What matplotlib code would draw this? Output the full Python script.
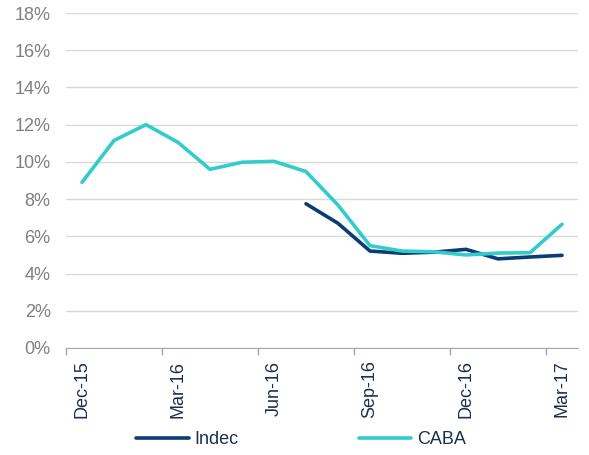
import matplotlib
matplotlib.use("Agg")
import matplotlib.pyplot as plt
from matplotlib.ticker import FixedLocator, FuncFormatter

plt.rcParams['font.family'] = ['Liberation Sans', 'DejaVu Sans']

# monthly categories Dec-15 .. Mar-17
months = ["Dec-15", "Jan-16", "Feb-16", "Mar-16", "Apr-16", "May-16", "Jun-16", "Jul-16",
          "Aug-16", "Sep-16", "Oct-16", "Nov-16", "Dec-16", "Jan-17", "Feb-17", "Mar-17"]
caba = [8.9, 11.15, 12.0, 11.05, 9.6, 9.98, 10.03, 9.48,
        7.68, 5.5, 5.21, 5.17, 5.0, 5.1, 5.12, 6.65]
indec_months = months[7:]
indec = [7.75, 6.7, 5.21, 5.09, 5.15, 5.3, 4.79, 4.89, 4.98]
yticks = [0, 2, 4, 6, 8, 10, 12, 14, 16, 18]

navy = "#0B3C73"
teal = "#33CCCC"

fig = plt.figure(figsize=(5.89, 4.55), dpi=100)
ax = fig.add_axes([66/589, 1 - 348/455, (578-66)/589, (348-13)/455])

xi = list(range(len(months)))
idx = [months.index(m) for m in indec_months]
ax.plot(idx, indec, color=navy, lw=2.6, solid_capstyle='round', label="Indec", zorder=3)
ax.plot(xi, caba, color=teal, lw=2.6, solid_capstyle='round', label="CABA", zorder=4)

ax.set_xlim(-0.5, len(months) - 0.5)
ax.set_ylim(0, 18)
ax.set_yticks(yticks)
ax.yaxis.set_major_formatter(FuncFormatter(lambda v, p: f"{v:.0f}%"))
ax.grid(axis='y', color='#D9D9D9', lw=1)
ax.set_axisbelow(True)
ax.tick_params(axis='y', length=0, labelsize=13, labelcolor='#7F7F7F', pad=11)

# labels every 3 months, tick marks at category boundaries
lab_pos = xi[::3]
ax.set_xticks(lab_pos)
ax.set_xticklabels([months[i] for i in lab_pos], rotation=90, fontsize=13, color='#1F2D4F')
ax.tick_params(axis='x', length=0, pad=9)
ax.xaxis.set_minor_locator(FixedLocator([p - 0.5 for p in lab_pos]))
ax.tick_params(axis='x', which='minor', length=5, color='#A6A6A6', width=1)

for s in ['left', 'right', 'top']:
    ax.spines[s].set_visible(False)
ax.spines['bottom'].set_color('#A6A6A6')

fig.legend(loc='center', bbox_to_anchor=(301/589, 1 - 440/455), ncol=2, frameon=False,
           fontsize=13, handlelength=2.9, handletextpad=0.3, columnspacing=6.7,
           labelcolor='#1F2D4F')

fig.savefig("out.png", dpi=100)
